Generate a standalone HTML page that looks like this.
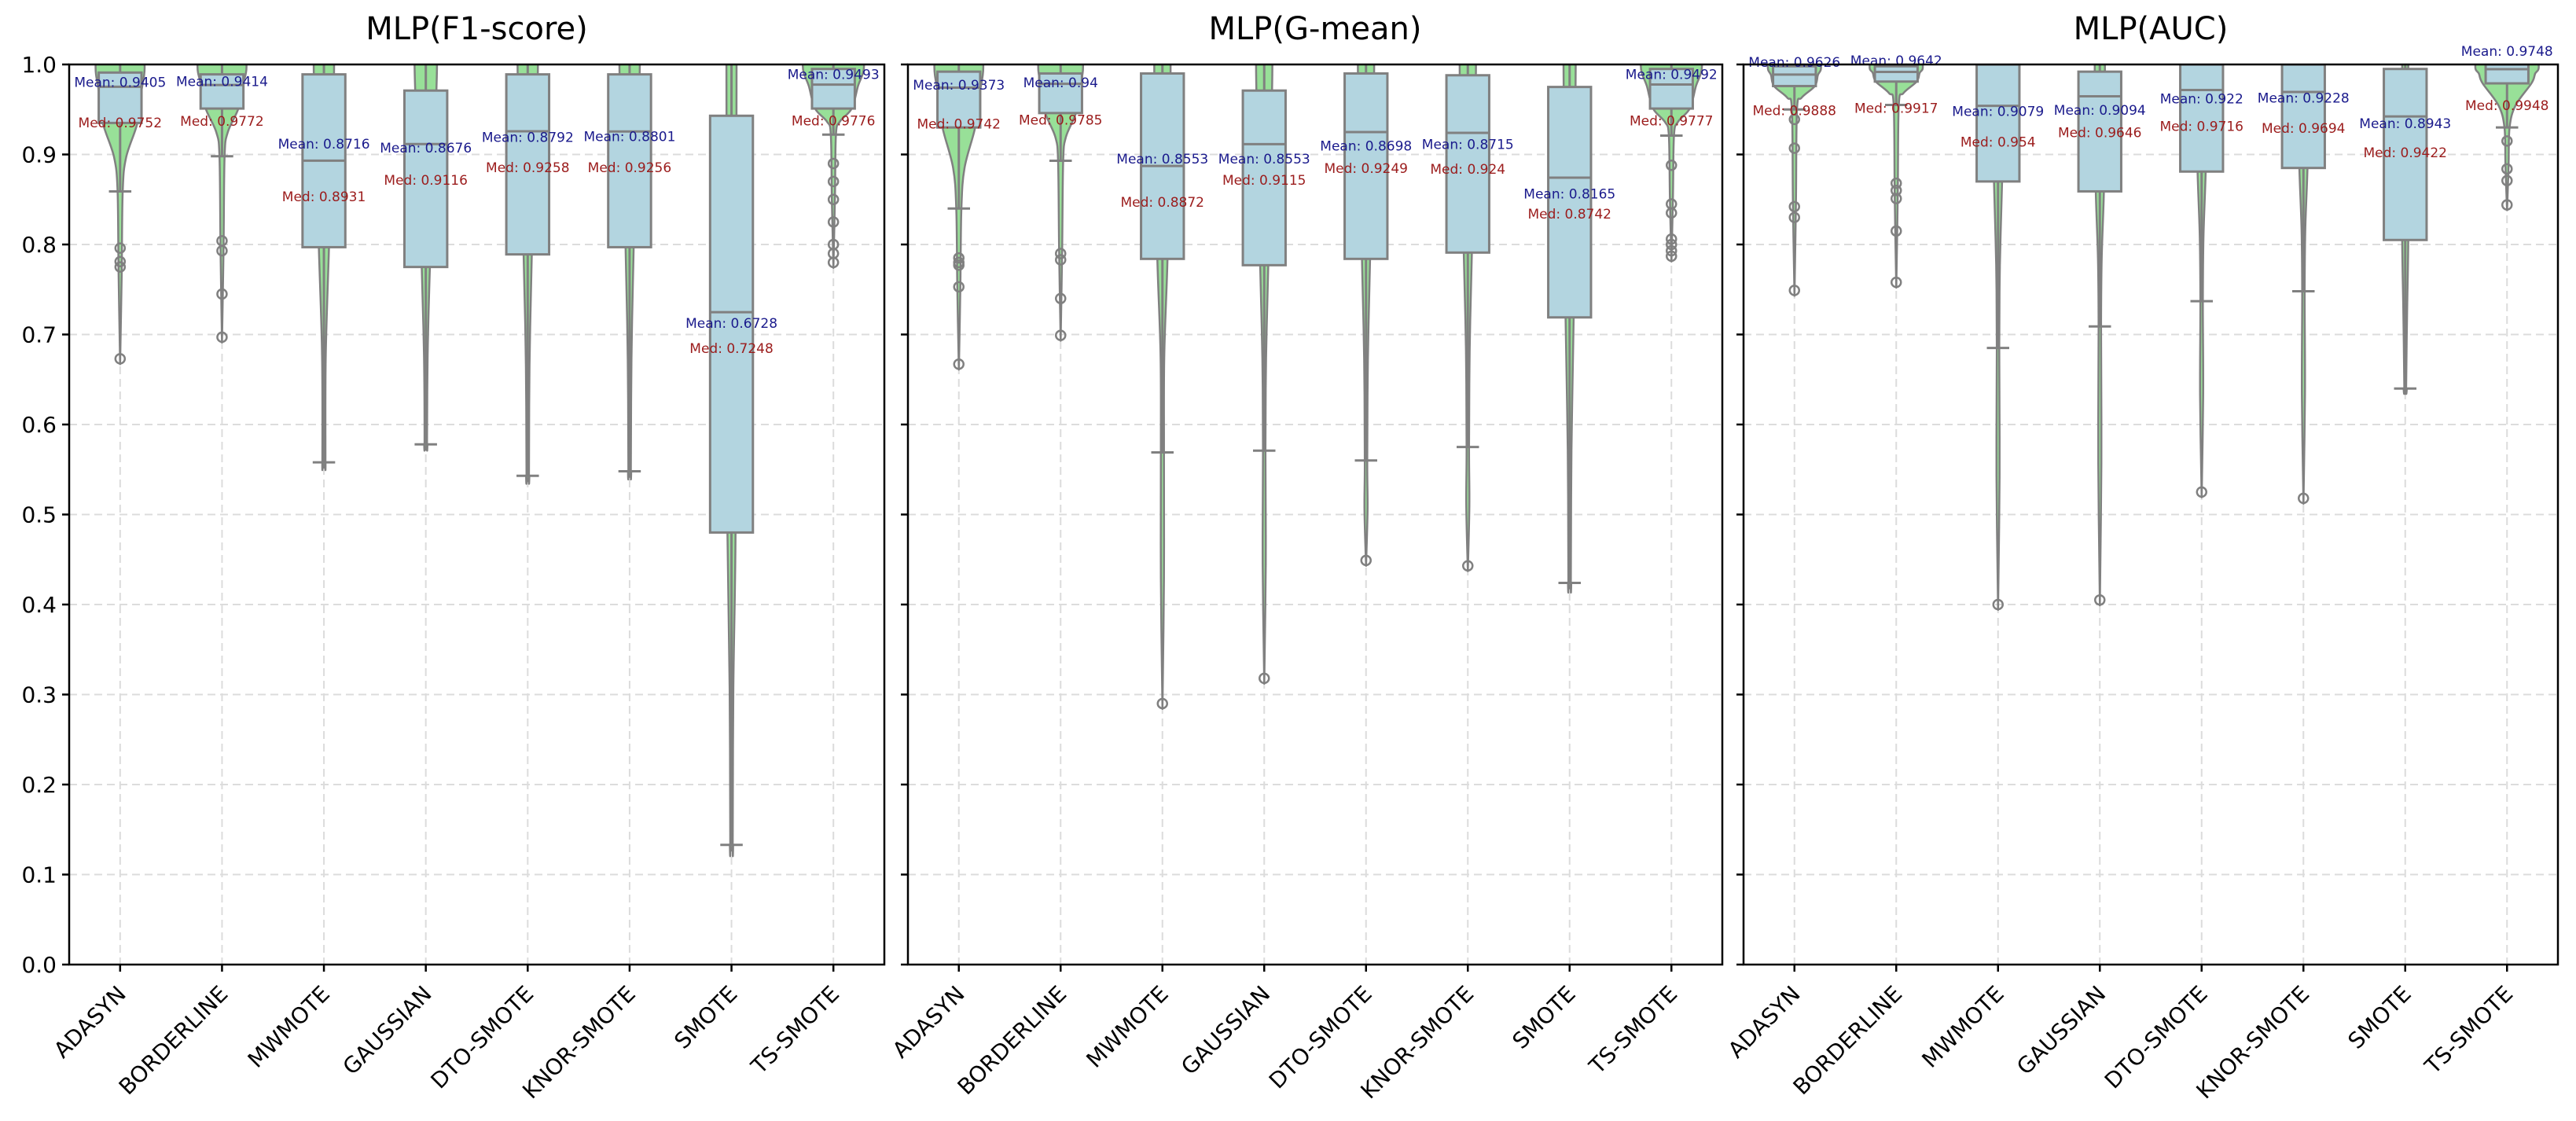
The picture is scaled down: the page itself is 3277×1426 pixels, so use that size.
<!DOCTYPE html>
<html>
<head>
<meta charset="utf-8">
<style>
  html, body { margin: 0; padding: 0; background: #ffffff; }
  svg { display: block; font-family: "DejaVu Sans", "Liberation Sans", sans-serif; }
</style>
</head>
<body>
<svg id="chart" xmlns="http://www.w3.org/2000/svg" width="3277" height="1426" viewBox="0 0 3277 1426">
  <rect x="0" y="0" width="3277" height="1426" fill="#ffffff"></rect>
</svg>
<script>
// ---------- data ----------
const categories = ["ADASYN","BORDERLINE","MWMOTE","GAUSSIAN","DTO-SMOTE","KNOR-SMOTE","SMOTE","TS-SMOTE"];
const panelTitles = ["MLP(F1-score)","MLP(G-mean)","MLP(AUC)"];
const yTicks = [0.0,0.1,0.2,0.3,0.4,0.5,0.6,0.7,0.8,0.9,1.0];

const f1Median = [0.9752,0.9772,0.8931,0.9116,0.9258,0.9256,0.7248,0.9776];
const f1Mean   = [0.9405,0.9414,0.8716,0.8676,0.8792,0.8801,0.6728,0.9493];
const f1Q3     = [0.991,0.989,0.989,0.971,0.989,0.989,0.943,0.995];
const f1Q1     = [0.935,0.951,0.797,0.775,0.789,0.797,0.480,0.951];
const f1WhiskLow = [0.859,0.898,0.558,0.578,0.543,0.548,0.133,0.922];
const f1Outliers = [[0.796,0.781,0.775,0.673],[0.804,0.793,0.745,0.697],[],[],[],[],[],[0.89,0.87,0.85,0.825,0.80,0.79,0.78]];
const f1ViolinTop = [0.24,0.24,0.10,0.11,0.10,0.10,0.05,0.30];
const f1ViolinMid = [0.17,0.16,0.05,0.04,0.04,0.04,0.04,0.18];

const gmMedian = [0.9742,0.9785,0.8872,0.9115,0.9249,0.924,0.8742,0.9777];
const gmMean   = [0.9373,0.94,0.8553,0.8553,0.8698,0.8715,0.8165,0.9492];
const gmQ3     = [0.992,0.990,0.990,0.971,0.990,0.988,0.975,0.995];
const gmQ1     = [0.930,0.946,0.784,0.777,0.784,0.791,0.719,0.951];
const gmWhiskLow = [0.840,0.893,0.569,0.571,0.560,0.575,0.424,0.921];
const gmOutliers = [[0.785,0.78,0.777,0.753,0.667],[0.79,0.783,0.74,0.699],[0.29],[0.318],[0.449],[0.443],[],[0.888,0.845,0.835,0.806,0.8,0.793,0.787]];
const gmViolinTop = [0.24,0.22,0.08,0.08,0.08,0.08,0.06,0.30];
const gmViolinMid = [0.16,0.15,0.05,0.04,0.04,0.04,0.04,0.18];

const aucMedian = [0.9888,0.9917,0.954,0.9646,0.9716,0.9694,0.9422,0.9948];
const aucMean   = [0.9626,0.9642,0.9079,0.9094,0.922,0.9228,0.8943,0.9748];
const aucQ3     = [0.998,0.998,1.0,0.992,1.0,1.0,0.995,1.0];
const aucQ1     = [0.976,0.981,0.870,0.859,0.881,0.885,0.805,0.979];
const aucWhiskLow = [0.950,0.955,0.685,0.709,0.737,0.748,0.640,0.930];
const aucOutliers = [[0.939,0.907,0.842,0.83,0.749],[0.868,0.86,0.851,0.815,0.758],[0.40],[0.405],[0.525],[0.518],[],[0.915,0.884,0.871,0.844]];
const aucViolinTop = [0.26,0.26,0.05,0.05,0.05,0.05,0.03,0.31];
const aucViolinMid = [0.20,0.20,0.04,0.04,0.04,0.04,0.03,0.24];

// ---------- layout ----------
const NS = "http://www.w3.org/2000/svg";
const svg = document.getElementById("chart");
const panelsX = [[88,1125],[1155,2191],[2218,3254]];
const yTop = 82, yBot = 1227;
const panelData = [
  {median:f1Median, mean:f1Mean, q3:f1Q3, q1:f1Q1, wl:f1WhiskLow, out:f1Outliers, vt:f1ViolinTop, vm:f1ViolinMid},
  {median:gmMedian, mean:gmMean, q3:gmQ3, q1:gmQ1, wl:gmWhiskLow, out:gmOutliers, vt:gmViolinTop, vm:gmViolinMid},
  {median:aucMedian, mean:aucMean, q3:aucQ3, q1:aucQ1, wl:aucWhiskLow, out:aucOutliers, vt:aucViolinTop, vm:aucViolinMid}
];

function mk(tag, attrs, parent) {
  const e = document.createElementNS(NS, tag);
  for (const k in attrs) e.setAttribute(k, attrs[k]);
  (parent || svg).appendChild(e);
  return e;
}
function yScale(v) { return yBot - v * (yBot - yTop); }
// Catmull-Rom smoothing through points
function smoothPath(pts) {
  let s = "M" + pts[0][0].toFixed(1) + "," + pts[0][1].toFixed(1);
  for (let i = 0; i < pts.length - 1; i++) {
    const p0 = pts[Math.max(0, i - 1)], p1 = pts[i], p2 = pts[i + 1], p3 = pts[Math.min(pts.length - 1, i + 2)];
    const c1 = [p1[0] + (p2[0] - p0[0]) / 6, p1[1] + (p2[1] - p0[1]) / 6];
    const c2 = [p2[0] - (p3[0] - p1[0]) / 6, p2[1] - (p3[1] - p1[1]) / 6];
    s += " C" + c1[0].toFixed(1) + "," + c1[1].toFixed(1) + " " + c2[0].toFixed(1) + "," + c2[1].toFixed(1) + " " + p2[0].toFixed(1) + "," + p2[1].toFixed(1);
  }
  return s;
}

const EDGE = "#808080";

panelsX.forEach((px, p) => {
  const x0 = px[0], x1 = px[1];
  const step = (x1 - x0) / categories.length;
  const xScale = i => x0 + step * (i + 0.5);
  const d = panelData[p];

  const g = mk("g", {});
  
  

  const clipId = "clip" + p;
  const cp = mk("clipPath", {id: clipId}, g);
  mk("rect", {x: x0, y: yTop, width: x1 - x0, height: yBot - yTop}, cp);

  yTicks.forEach(t => {
    const l = mk("line", {x1: x0, x2: x1, y1: yScale(t), y2: yScale(t), stroke: "#dcdcdc", "stroke-width": 2, "stroke-dasharray": "10 6"}, g);
    
    
  });
  categories.forEach((c, i) => {
    const l = mk("line", {x1: xScale(i), x2: xScale(i), y1: yTop, y2: yBot, stroke: "#dcdcdc", "stroke-width": 2, "stroke-dasharray": "10 6"}, g);
    
    
  });

  const plot = mk("g", {"clip-path": "url(#" + clipId + ")"}, g);

  categories.forEach((c, i) => {
    const cx = xScale(i);
    const minV = Math.min(d.wl[i], ...(d.out[i].length ? d.out[i] : [d.wl[i]]));
    const q1 = d.q1[i], wl = d.wl[i];
    const prof = [
      [1.04, d.vt[i] * 0.7],
      [1.0, d.vt[i]],
      [(1.0 + q1) / 2, (d.vt[i] + d.vm[i]) / 2],
      [q1, d.vm[i]],
      [(q1 + wl) / 2, Math.max(d.vm[i] * 0.35, 0.018)],
      [wl, Math.min(d.vm[i] * 0.3, 0.025)],
      [(wl + minV) / 2, 0.015],
      [minV - 0.006, 0.0]
    ];
    const right = prof.map(pt => [cx + pt[1] * step, yScale(pt[0])]);
    const left = prof.slice().reverse().map(pt => [cx - pt[1] * step, yScale(pt[0])]);
    const path = smoothPath(right) + " L" + smoothPath(left).slice(1) + " Z";
    const vio = mk("path", {d: path, fill: "#98e098", stroke: EDGE, "stroke-width": 2.5, "stroke-linejoin": "round"}, plot);
    
    

    const bw = 0.21 * step;
    const wlo = mk("line", {x1: cx, x2: cx, y1: yScale(q1), y2: yScale(wl), stroke: EDGE, "stroke-width": 3}, plot);
    
    
    const wh = mk("line", {x1: cx, x2: cx, y1: yScale(d.q3[i]), y2: yScale(1.05), stroke: EDGE, "stroke-width": 3}, plot);
    
    
    const cap = mk("line", {x1: cx - 0.11 * step, x2: cx + 0.11 * step, y1: yScale(wl), y2: yScale(wl), stroke: EDGE, "stroke-width": 3}, plot);
    
    

    const box = mk("rect", {x: cx - bw, y: yScale(d.q3[i]), width: 2 * bw, height: yScale(q1) - yScale(d.q3[i]), fill: "#b3d5e0", stroke: EDGE, "stroke-width": 3}, plot);
    
    
    const med = mk("line", {x1: cx - bw, x2: cx + bw, y1: yScale(d.median[i]), y2: yScale(d.median[i]), stroke: EDGE, "stroke-width": 3}, plot);
    
    

    d.out[i].forEach(v => {
      const o = mk("circle", {cx: cx, cy: yScale(v), r: 6, fill: "none", stroke: EDGE, "stroke-width": 2.5}, plot);
      
      
    });
  });

  categories.forEach((c, i) => {
    const cx = xScale(i);
    const tm = mk("text", {x: cx, y: yScale(d.mean[i] + 0.04) + 6, "text-anchor": "middle", "font-size": 17, fill: "#1a1a8c"}, g);
    tm.textContent = "Mean: " + d.mean[i];
    
    
    const tmd = mk("text", {x: cx, y: yScale(d.median[i] - 0.04) + 6, "text-anchor": "middle", "font-size": 17, fill: "#9b1c1c"}, g);
    tmd.textContent = "Med: " + d.median[i];
    
    
  });

  const frame = mk("rect", {x: x0, y: yTop, width: x1 - x0, height: yBot - yTop, fill: "none", stroke: "#000", "stroke-width": 2.5}, g);
  
  

  yTicks.forEach(t => {
    const tk = mk("line", {x1: x0 - 9, x2: x0, y1: yScale(t), y2: yScale(t), stroke: "#000", "stroke-width": 2.5}, g);
    
    
    if (p === 0) {
      const tl = mk("text", {x: x0 - 16, y: yScale(t) + 10, "text-anchor": "end", "font-size": 28, fill: "#000"}, g);
      tl.textContent = t.toFixed(1);
      
      
    }
  });

  categories.forEach((c, i) => {
    const cx = xScale(i);
    const tk = mk("line", {x1: cx, x2: cx, y1: yBot, y2: yBot + 9, stroke: "#000", "stroke-width": 2.5}, g);
    
    
    const lx = cx + 9, ly = 1266;
    const tl = mk("text", {x: lx, y: ly, "text-anchor": "end", "font-size": 28, fill: "#000", transform: "rotate(-45 " + lx + " " + ly + ")"}, g);
    tl.textContent = c;
    
    
  });

  const title = mk("text", {x: (x0 + x1) / 2, y: 50, "text-anchor": "middle", "font-size": 40, fill: "#000"}, g);
  title.textContent = panelTitles[p];
  
  
});
</script>
</body>
</html>
